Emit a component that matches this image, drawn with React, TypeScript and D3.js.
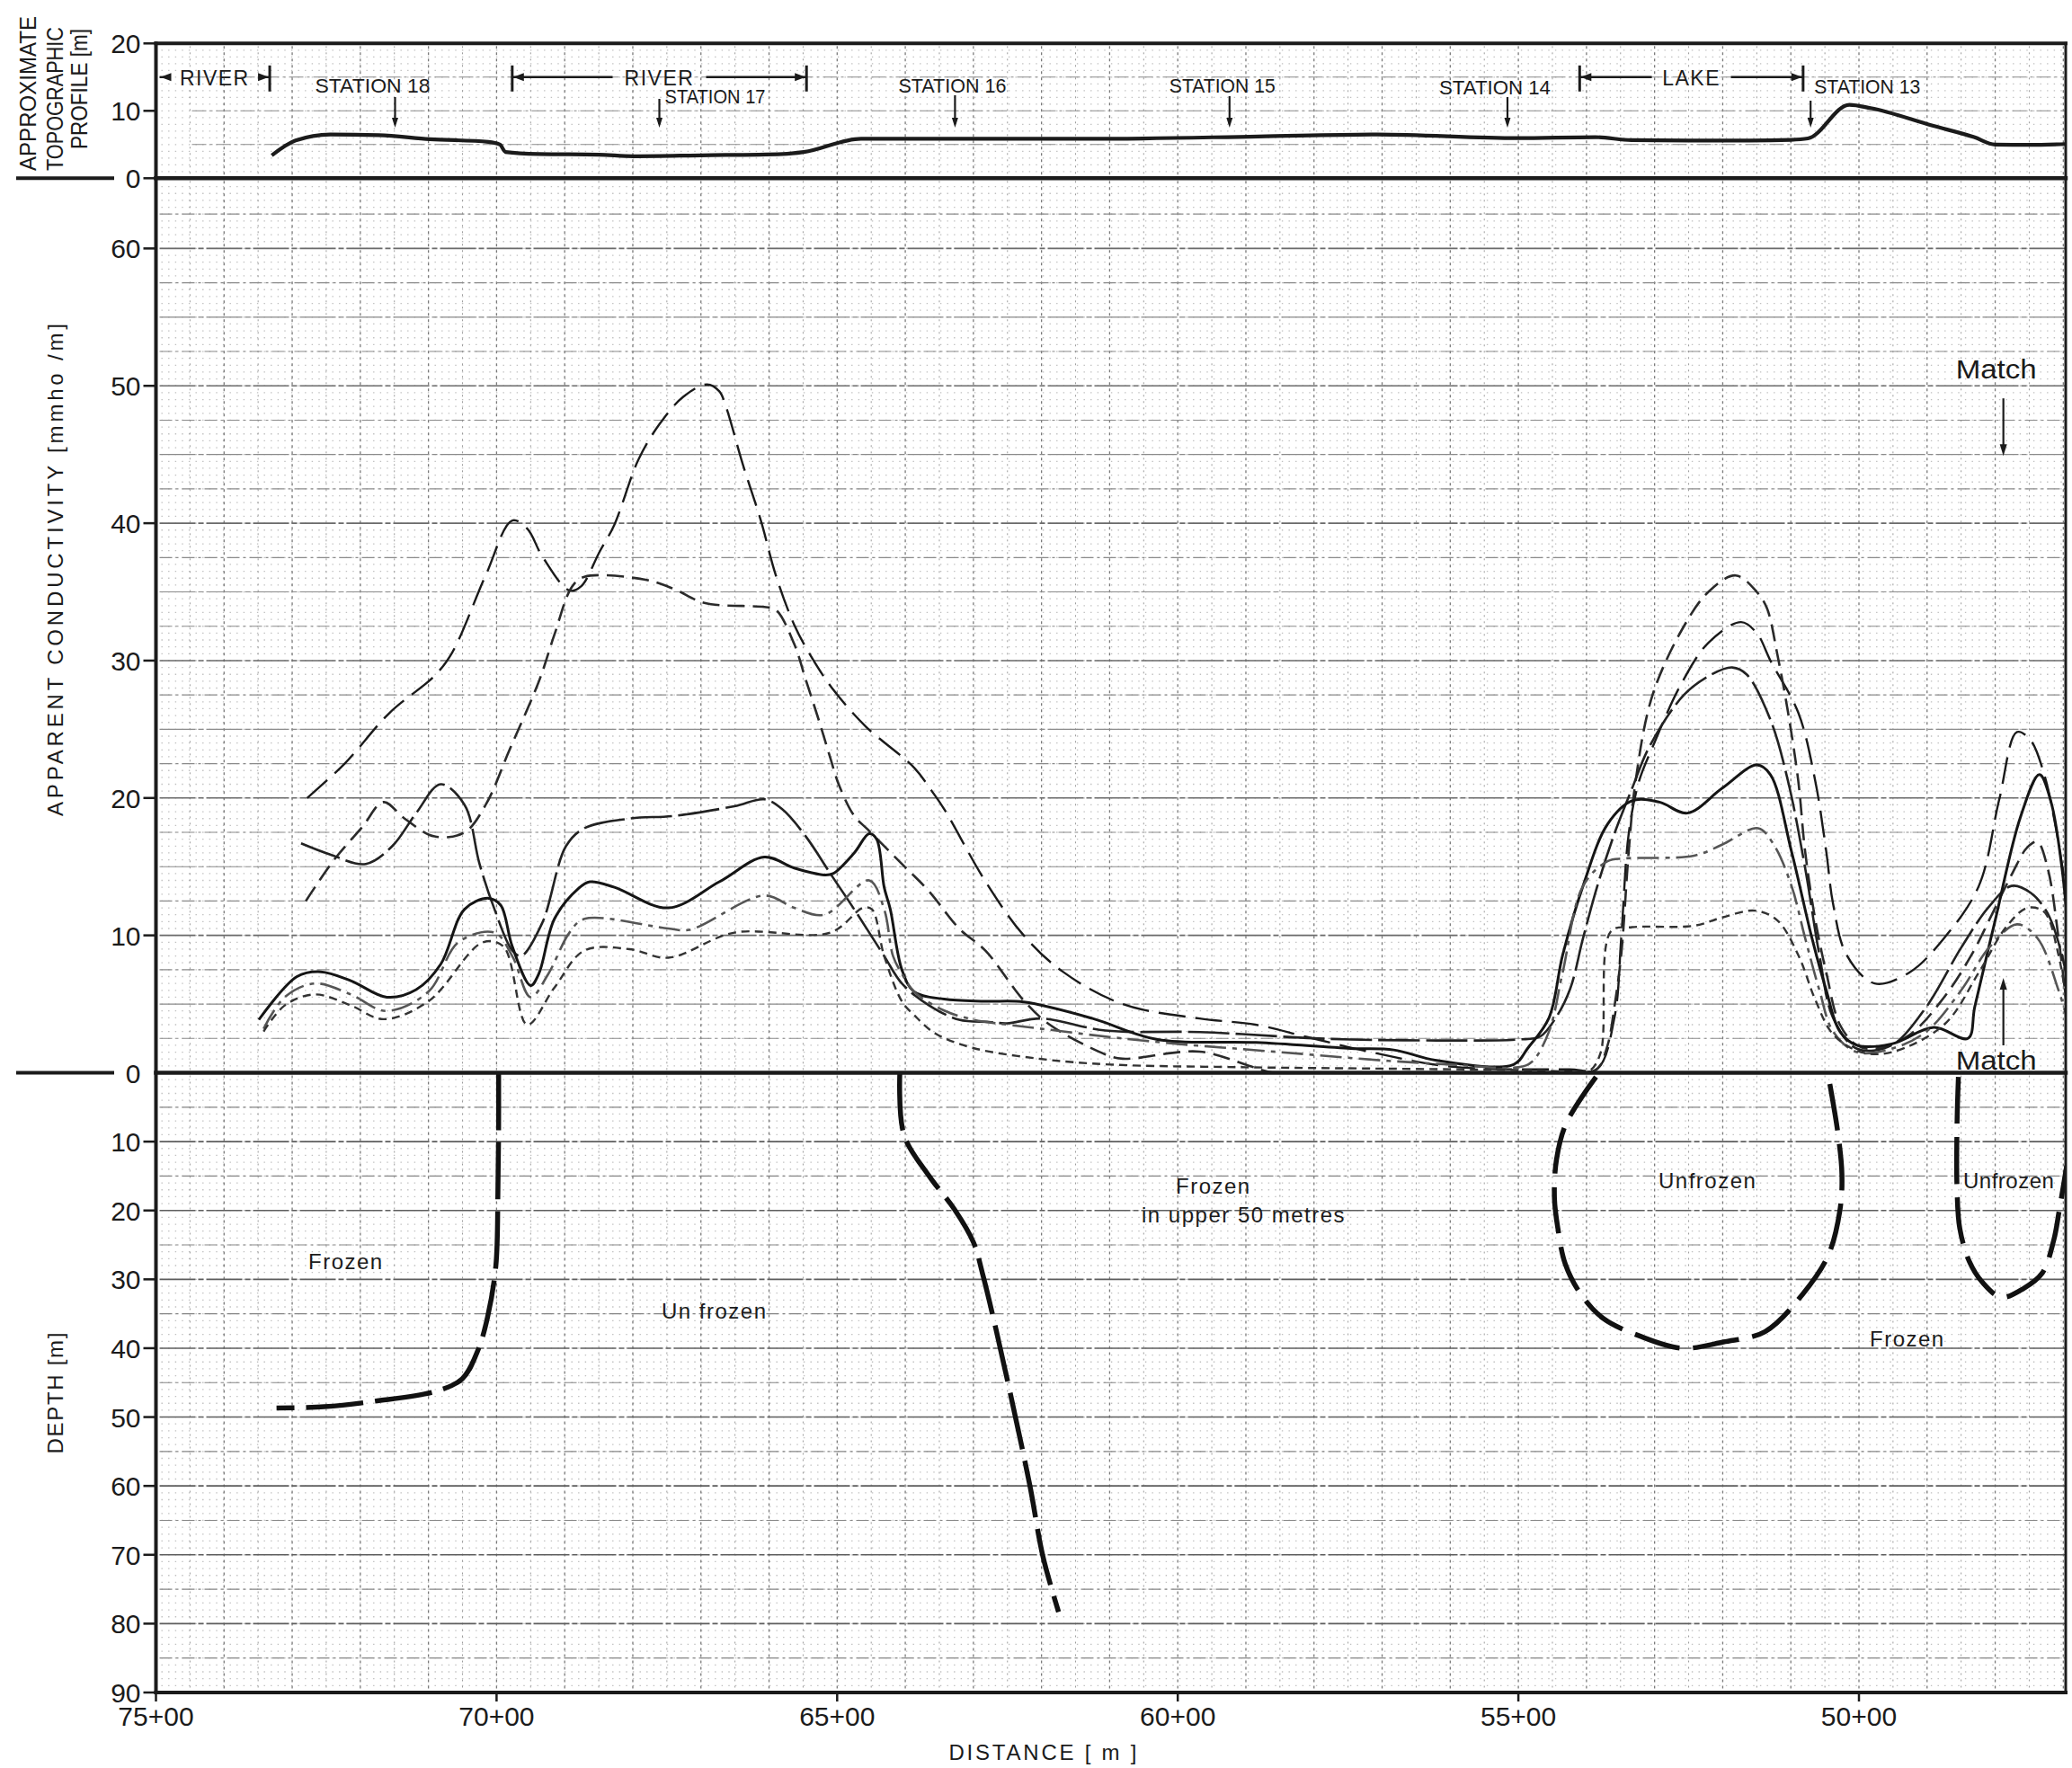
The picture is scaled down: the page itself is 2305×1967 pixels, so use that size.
import React from "react";
import * as d3 from "d3";

const W = 2305;
const H = 1967;

// Stations are in hundreds (75 = 75+00), values in the panel units.
const xTickValues = [75, 70, 65, 60, 55, 50];
const topoTickValues = [0, 10, 20];
const condTickValues = [0, 10, 20, 30, 40, 50, 60];
const depthTickValues = [10, 20, 30, 40, 50, 60, 70, 80, 90];

// Approximate topographic profile [station, elevation m]
const topoProfile: [number, number][] = [
  [73.3, 3.4], [72.95, 5.6], [72.44, 6.5], [71.73, 6.4], [70.98, 5.8], [70.12, 5.4],
  [69.95, 5.0], [69.87, 3.9], [69.38, 3.6], [68.5, 3.5], [67.99, 3.26], [67.0, 3.4],
  [65.8, 3.6], [65.49, 3.9], [64.65, 5.87], [63.22, 5.87], [60.94, 5.87], [58.82, 6.2],
  [57.07, 6.5], [55.01, 5.95], [53.87, 6.1], [53.34, 5.65], [52.5, 5.6], [51.6, 5.6],
  [51.0, 5.7], [50.75, 5.9], [50.14, 10.9], [49.83, 10.4], [48.92, 7.8], [48.31, 6.1],
  [48.0, 5.0], [47.5, 4.95], [46.9, 5.1],
];

// Apparent conductivity profiles [station, mmho/m]
const condLongDash: [number, number][] = [
  [72.78, 20.0], [72.23, 22.5], [71.57, 26.2], [70.91, 28.9], [70.65, 30.6], [70.16, 36.2],
  [69.77, 40.2], [69.55, 39.6], [69.33, 37.6], [68.93, 35.1], [68.76, 35.4], [68.49, 37.9],
  [68.27, 39.9], [67.92, 44.6], [67.61, 47.2], [67.26, 49.2], [66.91, 50.1], [66.73, 49.6],
  [66.64, 48.6], [66.38, 44.2], [66.12, 40.2], [65.9, 36.2], [65.63, 32.6], [65.37, 30.2],
  [65.06, 27.9], [64.58, 25.2], [63.87, 22.2], [63.61, 20.5], [63.43, 19.2], [62.82, 13.9],
  [62.27, 10.05], [61.7, 7.4], [60.81, 5.0], [59.68, 3.95], [58.86, 3.5], [58.1, 2.6],
  [57.16, 1.5], [56.0, 0.45], [54.25, 0.25], [53.84, 0.3], [53.59, 4.0], [53.49, 9.8],
  [53.38, 17.4], [53.23, 21.2], [53.03, 23.7], [52.62, 28.2], [52.21, 31.3], [51.73, 32.8],
  [51.5, 32.0], [51.3, 30.0], [50.89, 26.2], [50.64, 21.2], [50.48, 16.1], [50.38, 12.3],
  [50.18, 8.56], [49.77, 6.5], [49.26, 7.3], [48.75, 9.8], [48.24, 13.6], [47.94, 19.9],
  [47.68, 24.8], [47.48, 24.2], [47.28, 21.7], [47.12, 18.1], [46.97, 13.6],
];

const condMediumDash: [number, number][] = [
  [72.8, 12.5], [72.4, 15.4], [71.97, 17.9], [71.66, 19.7], [71.35, 18.5], [70.91, 17.2],
  [70.47, 17.5], [70.16, 19.5], [69.81, 23.5], [69.37, 28.6], [69.15, 31.9], [68.89, 35.4],
  [68.71, 36.1], [67.83, 35.9], [67.39, 35.2], [66.95, 34.2], [66.07, 33.9], [65.9, 33.7],
  [65.63, 31.2], [65.46, 28.6], [65.24, 25.2], [65.1, 22.9], [64.97, 20.9], [64.75, 18.7],
  [64.55, 17.7], [64.05, 15.2], [63.65, 13.2], [63.21, 10.5], [62.82, 8.87], [62.26, 5.25],
  [61.88, 3.5], [61.06, 1.33], [60.81, 1.02], [59.68, 1.54], [58.92, 0.45], [58.6, 0.0],
  [56.5, 0.0], [54.1, 0.0], [53.84, 0.3], [53.69, 2.0], [53.59, 4.8], [53.49, 8.6],
  [53.38, 16.1], [53.28, 21.2], [53.03, 27.5], [52.57, 32.5], [52.21, 35.0], [51.81, 36.2],
  [51.5, 35.0], [51.35, 33.8], [51.2, 30.5], [51.04, 26.2], [50.89, 21.2], [50.79, 16.1],
  [50.64, 11.1], [50.48, 7.3], [50.28, 3.5], [50.03, 2.0], [49.77, 1.75], [49.26, 2.75],
  [48.75, 5.5], [48.35, 8.56], [48.04, 11.6], [47.74, 14.6], [47.53, 16.4], [47.38, 16.8],
  [47.23, 14.9], [47.07, 9.8], [46.92, 3.5],
];

const condSolidLong: [number, number][] = [
  [72.87, 16.7], [72.45, 15.9], [71.92, 15.2], [71.53, 16.5], [71.18, 18.9], [70.82, 21.0],
  [70.47, 19.5], [70.25, 15.2], [70.03, 11.9], [69.77, 8.9], [69.64, 8.5], [69.33, 10.9],
  [68.98, 16.5], [68.71, 17.8], [68.05, 18.5], [67.39, 18.7], [66.51, 19.4], [66.07, 19.9],
  [65.81, 19.2], [65.46, 17.2], [65.1, 14.5], [64.75, 11.9], [64.31, 8.5], [64.05, 6.5],
  [63.65, 4.9], [63.21, 3.86], [62.77, 3.7], [62.51, 3.6], [62.0, 3.95], [61.06, 3.07],
  [59.67, 2.96], [58.09, 2.53], [57.46, 2.42], [56.2, 2.35], [55.0, 2.42], [54.68, 2.64],
  [54.45, 4.0], [54.24, 6.1], [54.05, 9.8], [53.84, 13.6], [53.59, 17.4], [53.33, 20.7],
  [53.08, 23.7], [52.57, 27.5], [52.16, 29.0], [51.86, 29.5], [51.65, 29.0], [51.3, 25.7],
  [51.04, 21.2], [50.79, 14.9], [50.58, 8.56], [50.38, 4.0], [50.03, 1.75], [49.52, 2.0],
  [49.01, 4.8], [48.5, 9.1], [48.09, 12.1], [47.76, 13.6], [47.48, 13.1], [47.23, 11.6],
  [47.02, 8.56], [46.92, 6.0],
];

const condSolid: [number, number][] = [
  [73.49, 3.86], [72.93, 7.0], [72.58, 7.35], [72.14, 6.7], [71.61, 5.5], [71.18, 6.05],
  [70.82, 7.9], [70.47, 11.9], [70.12, 12.7], [69.94, 12.2], [69.77, 9.2], [69.5, 6.35],
  [69.38, 7.2], [69.15, 11.2], [68.8, 13.4], [68.63, 13.9], [68.27, 13.5], [67.48, 12.0],
  [66.73, 13.9], [66.07, 15.7], [65.63, 14.9], [65.19, 14.4], [65.06, 14.5], [64.75, 16.0],
  [64.53, 17.4], [64.42, 17.0], [64.31, 13.5], [64.22, 11.9], [64.05, 7.5], [63.87, 5.9],
  [63.43, 5.36], [62.82, 5.2], [62.26, 5.15], [61.25, 3.95], [60.3, 2.42], [58.85, 2.2],
  [57.46, 1.77], [56.83, 1.66], [56.2, 0.9], [55.07, 0.6], [54.86, 1.8], [54.55, 4.0],
  [54.35, 8.56], [54.05, 13.6], [53.69, 18.1], [53.33, 19.8], [52.93, 19.7], [52.52, 18.9],
  [52.01, 20.7], [51.5, 22.4], [51.3, 21.7], [50.99, 16.1], [50.69, 9.8], [50.48, 6.0],
  [50.28, 3.0], [50.03, 2.0], [49.52, 2.1], [48.9, 3.3], [48.4, 2.5], [48.3, 4.8],
  [48.0, 11.1], [47.63, 18.6], [47.35, 21.7], [47.18, 19.7], [47.02, 14.9], [46.92, 9.8],
];

const condDashDot: [number, number][] = [
  [73.42, 3.2], [73.11, 5.5], [72.67, 6.5], [72.14, 5.7], [71.62, 4.5], [71.0, 5.9],
  [70.56, 9.5], [70.03, 10.2], [69.77, 8.5], [69.5, 5.5], [69.24, 7.2], [68.93, 10.2],
  [68.71, 11.2], [67.48, 10.5], [67.17, 10.4], [66.07, 12.9], [65.63, 12.0], [65.19, 11.5],
  [64.53, 14.0], [64.31, 11.9], [64.18, 8.5], [64.05, 7.2], [63.87, 5.9], [63.43, 4.53],
  [63.0, 3.86], [62.5, 3.5], [62.0, 3.2], [61.0, 2.6], [60.0, 2.1], [59.0, 1.7],
  [58.0, 1.3], [57.0, 0.9], [56.0, 0.6], [55.0, 0.4], [54.8, 0.8], [54.55, 3.0],
  [54.35, 7.3], [54.05, 13.6], [53.69, 15.4], [53.44, 15.6], [52.42, 15.8], [52.01, 16.6],
  [51.48, 17.8], [51.25, 16.6], [50.99, 13.6], [50.79, 9.8], [50.58, 6.0], [50.38, 3.0],
  [50.03, 1.5], [49.52, 1.75], [49.01, 3.0], [48.5, 6.0], [48.09, 9.1], [47.68, 10.8],
  [47.38, 9.8], [47.07, 6.0], [46.92, 3.5],
];

const condShortDash: [number, number][] = [
  [73.42, 3.0], [73.11, 4.9], [72.67, 5.7], [72.14, 4.9], [71.66, 3.9], [71.0, 5.2],
  [70.2, 9.5], [69.9, 9.2], [69.55, 3.5], [69.15, 6.2], [68.71, 8.9], [68.05, 9.0],
  [67.48, 8.37], [66.51, 10.2], [65.1, 10.2], [64.62, 12.0], [64.49, 11.9], [64.31, 8.5],
  [64.05, 5.2], [63.87, 4.2], [63.56, 2.86], [63.0, 1.8], [62.0, 1.0], [61.0, 0.6],
  [59.0, 0.4], [57.0, 0.3], [55.0, 0.2], [54.1, 0.1], [53.94, 0.2], [53.79, 1.5],
  [53.64, 10.3], [53.33, 10.6], [52.42, 10.7], [52.01, 11.3], [51.53, 11.8], [51.2, 11.1],
  [50.89, 8.56], [50.64, 5.3], [50.38, 2.8], [49.97, 1.5], [49.52, 1.5], [48.75, 3.5],
  [48.24, 7.3], [47.84, 10.6], [47.53, 12.0], [47.28, 11.7], [47.07, 8.56], [46.92, 4.0],
];

// Interpreted frozen / unfrozen boundaries [station, depth m]
const boundaryRiverWest: [number, number][] = [
  [69.97, 0], [69.97, 8], [69.98, 17], [70.01, 28], [70.13, 35.4], [70.27, 40.2],
  [70.5, 44.4], [70.87, 46.2], [71.79, 47.7], [72.53, 48.5], [73.23, 48.7],
];
const boundaryRiverEast: [number, number][] = [
  [64.08, 0], [64.02, 9.0], [63.65, 15.0], [63.28, 19.8], [63.0, 24.6], [62.86, 29.4],
  [62.67, 37.2], [62.44, 47.4], [62.17, 60], [61.98, 70.2], [61.75, 78.3],
];
const boundaryLake: [number, number][] = [
  [53.86, 0.6], [54.3, 7.4], [54.44, 12.6], [54.47, 18.3], [54.42, 22.6], [54.31, 27.8],
  [54.08, 32.2], [53.75, 35.7], [53.2, 38.3], [52.6, 40.0], [51.99, 39.1], [51.38, 37.6],
  [50.83, 32.2], [50.45, 26.5], [50.28, 20.0], [50.25, 14.8], [50.31, 8.7], [50.45, 0.4],
];
const boundaryEast: [number, number][] = [
  [48.54, 0.6], [48.56, 7.4], [48.56, 16.9], [48.52, 22.6], [48.38, 27.4], [48.19, 30.4],
  [47.91, 32.6], [47.58, 31.3], [47.31, 29.1], [47.14, 24.3], [47.06, 20.0], [46.95, 13.5],
];

// Station markers along the profile
const stationNames = ["STATION 18", "STATION 17", "STATION 16", "STATION 15", "STATION 14", "STATION 13"];
const stationAt = [71.49, 67.61, 63.27, 59.24, 55.16, 50.71];

// Surface features: [label, start station, end station]
const featureNames = ["RIVER", "RIVER", "LAKE"];
const featureFrom = [75, 69.77, 54.1];
const featureTo = [73.33, 65.45, 50.82];

// Matching points between the two sets of readings [station, mmho/m]
const matchAt: [number, number][] = [[47.88, 44.9], [47.88, 6.9]];

const FONT = "'Liberation Sans', Arial, Helvetica, sans-serif";
const INK = "#1b1b1b";

const x = d3.scaleLinear().domain([75, 50]).range([173.5, 2068]);
const plotLeft = x(75);
const plotRight = 2298;
const topoY = d3.scaleLinear().domain([0, 20]).range([198.3, 48.3]);
const condY = d3.scaleLinear().domain([0, 60]).range([1193.5, 276.4]);
const depthY = d3.scaleLinear().domain([0, 90]).range([1193.5, 1883]);
const stationMin = x.invert(plotRight);

function arrowHead(tx: number, ty: number, dx: number, dy: number, len = 12, half = 4.5) {
  const bx = tx - dx * len;
  const by = ty - dy * len;
  const px = -dy * half;
  const py = dx * half;
  return `M${tx},${ty}L${bx + px},${by + py}L${bx - px},${by - py}Z`;
}

function Grid() {
  const els: React.ReactNode[] = [];
  let k = 0;
  const verticals = d3.range(74.5, stationMin, -0.5);
  const bands: { y0: number; y1: number }[] = [
    { y0: topoY(20), y1: topoY(0) },
    { y0: topoY(0), y1: condY(0) },
    { y0: depthY(0), y1: depthY(90) },
  ];
  // fine dotted rows (graph-paper stipple)
  const dotRows: number[] = [
    ...d3.range(1, 20, 1).map((v) => topoY(v)),
    ...d3.range(0.5, 65, 0.5).map((v) => condY(v)),
    ...d3.range(1, 90, 1).map((v) => depthY(v)),
  ];
  dotRows.forEach((yy) => {
    els.push(
      <line key={k++} x1={plotLeft + 6} x2={plotRight - 4} y1={yy} y2={yy}
        stroke="#8d8d8d" strokeWidth={1.3} strokeDasharray="1.4 6.2" opacity={0.55} />
    );
  });
  // vertical rulings
  bands.forEach((b) => {
    verticals.forEach((s) => {
      const major = Math.abs(s - Math.round(s)) < 1e-6;
      els.push(
        <line key={k++} x1={x(s)} x2={x(s)} y1={b.y0 + 3} y2={b.y1 - 3}
          stroke={major ? "#7a7a7a" : "#9c9c9c"} strokeWidth={major ? 1.3 : 1}
          strokeDasharray={major ? "3 4" : "2 5"} />
      );
    });
  });
  // horizontal rulings
  [5, 10, 15].forEach((v) => {
    els.push(<line key={k++} x1={plotLeft + 40} x2={plotRight} y1={topoY(v)} y2={topoY(v)}
      stroke="#8a8a8a" strokeWidth={1.1} strokeDasharray="16 4 3 4" />);
  });
  d3.range(2.5, 65, 2.5).forEach((v) => {
    const ten = v % 10 === 0;
    const five = v % 5 === 0;
    els.push(<line key={k++} x1={plotLeft + 4} x2={plotRight} y1={condY(v)} y2={condY(v)}
      stroke={ten ? "#6a6a6a" : "#8a8a8a"} strokeWidth={ten ? 1.6 : 1.15}
      strokeDasharray={five ? "40 3 6 3" : "14 4 3 4"} />);
  });
  d3.range(5, 90, 5).forEach((v) => {
    const ten = v % 10 === 0;
    els.push(<line key={k++} x1={plotLeft + 4} x2={plotRight} y1={depthY(v)} y2={depthY(v)}
      stroke={ten ? "#5e5e5e" : "#858585"} strokeWidth={ten ? 1.6 : 1.15}
      strokeDasharray={ten ? "40 3 6 3" : "14 4 3 4"} />);
  });
  return <g>{els}</g>;
}

export default function App() {
  const condLine = d3
    .line<[number, number]>()
    .x((d) => x(d[0]))
    .y((d) => condY(d[1]))
    .curve(d3.curveCatmullRom.alpha(0.5));
  const depthLine = d3
    .line<[number, number]>()
    .x((d) => x(d[0]))
    .y((d) => depthY(d[1]))
    .curve(d3.curveCatmullRom.alpha(0.5));
  const topoLine = d3
    .line<[number, number]>()
    .x((d) => x(d[0]))
    .y((d) => topoY(d[1]))
    .curve(d3.curveMonotoneX);

  const series = [
    { data: condLongDash, dash: "30 11", width: 2.4, color: "#1a1a1a" },
    { data: condMediumDash, dash: "19 9", width: 2.6, color: "#2a2a2a" },
    { data: condSolidLong, dash: "46 7", width: 2.6, color: "#222" },
    { data: condSolid, dash: undefined, width: 3, color: "#151515" },
    { data: condDashDot, dash: "24 7 5 7", width: 2.6, color: "#555" },
    { data: condShortDash, dash: "9 6", width: 2.4, color: "#333" },
  ];

  const boundaries = [boundaryRiverWest, boundaryRiverEast, boundaryLake, boundaryEast];
  const labelLayout = [
    { dx: -25, y: 103, anchor: "middle", top: 108, len: 128 },
    { dx: 6, y: 115, anchor: "start", top: 110, len: 112 },
    { dx: -3, y: 103, anchor: "middle", top: 106, len: 120 },
    { dx: -8, y: 103, anchor: "middle", top: 107, len: 118 },
    { dx: -14, y: 105, anchor: "middle", top: 108, len: 124 },
    { dx: 4, y: 104, anchor: "start", top: 112, len: 118 },
  ];

  return (
    <svg width={W} height={H} viewBox={`0 0 ${W} ${H}`}
      style={{ position: "absolute", left: 0, top: 0, background: "#fff" }} fontFamily={FONT}>
      <defs>
        <clipPath id="condClip">
          <rect x={plotLeft} y={topoY(0)} width={plotRight - plotLeft} height={condY(0) - topoY(0) + 1} />
        </clipPath>
        <clipPath id="depthClip">
          <rect x={plotLeft} y={depthY(0)} width={plotRight - plotLeft} height={depthY(90) - depthY(0)} />
        </clipPath>
        <clipPath id="topoClip">
          <rect x={plotLeft} y={topoY(20)} width={plotRight - plotLeft} height={topoY(0) - topoY(20)} />
        </clipPath>
      </defs>
      <rect x={0} y={0} width={W} height={H} fill="#fff" />

      <Grid />

      {/* topographic profile */}
      <path d={topoLine(topoProfile.slice().reverse()) ?? ""} fill="none" stroke={INK} strokeWidth={4.2}
        strokeLinejoin="round" clipPath="url(#topoClip)" />

      {/* river / lake extents */}
      {featureNames.map((name, i) => {
        const yy = topoY(15);
        const a = featureFrom[i] >= 75 ? plotLeft + 4 : x(featureFrom[i]);
        const b = x(featureTo[i]);
        const mid = (a + b) / 2;
        const halfText = name.length * 8 + 12;
        return (
          <g key={`f${i}`} stroke={INK} fill={INK}>
            {featureFrom[i] < 75 && <line x1={a} x2={a} y1={yy - 13} y2={yy + 16} strokeWidth={3} />}
            <line x1={b} x2={b} y1={yy - 13} y2={yy + 16} strokeWidth={3} />
            <line x1={a} x2={mid - halfText} y1={yy} y2={yy} strokeWidth={2.4} />
            <line x1={mid + halfText} x2={b} y1={yy} y2={yy} strokeWidth={2.4} />
            <path d={arrowHead(a + 1, yy, -1, 0)} stroke="none" />
            <path d={arrowHead(b - 1, yy, 1, 0)} stroke="none" />
            <text x={mid} y={yy + 9} textAnchor="middle" fontSize={23} stroke="none"
              letterSpacing={1.5}>{name}</text>
          </g>
        );
      })}

      {/* station markers */}
      {stationNames.map((name, i) => {
        const sx = x(stationAt[i]);
        const L = labelLayout[i];
        return (
          <g key={`s${i}`} fill={INK}>
            <text x={sx + L.dx} y={L.y} textAnchor={L.anchor as any} fontSize={22}
              textLength={L.len} lengthAdjust="spacingAndGlyphs">{name}</text>
            <line x1={sx} x2={sx} y1={L.top} y2={138} stroke={INK} strokeWidth={2.2} />
            <path d={arrowHead(sx, 142, 0, 1, 11, 3.5)} />
          </g>
        );
      })}

      {/* conductivity profiles */}
      <g clipPath="url(#condClip)">
        {series.map((s, i) => (
          <path key={`c${i}`} d={condLine(s.data) ?? ""} fill="none" stroke={s.color}
            strokeWidth={s.width} strokeDasharray={s.dash} strokeLinecap="butt" strokeLinejoin="round" />
        ))}
      </g>

      {/* frozen / unfrozen boundaries */}
      <g clipPath="url(#depthClip)">
        {boundaries.map((b, i) => (
          <path key={`b${i}`} d={depthLine(b) ?? ""} fill="none" stroke="#111" strokeWidth={5.5}
            strokeDasharray={i < 2 ? "64 13" : "52 15"} strokeLinecap="butt" />
        ))}
      </g>

      {/* match markers */}
      {matchAt.map((m, i) => {
        const mx = x(m[0]);
        const my = condY(m[1]);
        const down = i === 0;
        const tail = down ? my - 64 : my + 75;
        return (
          <g key={`m${i}`} fill={INK}>
            <line x1={mx} x2={mx} y1={tail} y2={down ? my - 10 : my + 10} stroke={INK} strokeWidth={2.2} />
            <path d={arrowHead(mx, my, 0, down ? 1 : -1, 13, 4)} />
            <text x={mx - 8} y={down ? tail - 22 : tail + 27} textAnchor="middle" fontSize={30}
              textLength={90} lengthAdjust="spacingAndGlyphs">Match</text>
          </g>
        );
      })}

      {/* region labels */}
      <g fill={INK} fontSize={24} letterSpacing={1.5}>
        <text x={343} y={1412}>Frozen</text>
        <text x={736} y={1467}>Un frozen</text>
        <text x={1308} y={1328}>Frozen</text>
        <text x={1270} y={1360}>in  upper  50  metres</text>
        <text x={1845} y={1322}>Unfrozen</text>
        <text x={2184} y={1322} letterSpacing={0.5}>Unfrozen</text>
        <text x={2080} y={1498}>Frozen</text>
      </g>

      {/* frame */}
      <g stroke={INK} fill="none" strokeLinecap="square">
        <line x1={plotLeft} x2={plotRight} y1={topoY(20)} y2={topoY(20)} strokeWidth={4} />
        <line x1={plotLeft} x2={plotRight} y1={topoY(0)} y2={topoY(0)} strokeWidth={4.5} />
        <line x1={plotLeft} x2={plotRight} y1={condY(0)} y2={condY(0)} strokeWidth={4.5} />
        <line x1={plotLeft} x2={plotRight} y1={depthY(90)} y2={depthY(90)} strokeWidth={4} />
        <line x1={plotLeft} x2={plotLeft} y1={topoY(20)} y2={depthY(90)} strokeWidth={4} />
        <line x1={plotRight} x2={plotRight} y1={topoY(20)} y2={depthY(90)} strokeWidth={3} />
        <line x1={20} x2={125} y1={topoY(0)} y2={topoY(0)} strokeWidth={4} />
        <line x1={20} x2={125} y1={condY(0)} y2={condY(0)} strokeWidth={4} />
      </g>

      {/* y axes */}
      <g fill={INK} fontSize={30}>
        {topoTickValues.map((v) => (
          <g key={`ty${v}`}>
            <line x1={plotLeft - 14} x2={plotLeft} y1={topoY(v)} y2={topoY(v)} stroke={INK} strokeWidth={2.5} />
            <text x={plotLeft - 17} y={topoY(v) + 11} textAnchor="end">{v}</text>
          </g>
        ))}
        {condTickValues.filter((v) => v > 0).map((v) => (
          <g key={`cy${v}`}>
            <line x1={plotLeft - 14} x2={plotLeft} y1={condY(v)} y2={condY(v)} stroke={INK} strokeWidth={2.5} />
            <text x={plotLeft - 17} y={condY(v) + 11} textAnchor="end">{v}</text>
          </g>
        ))}
        <text x={plotLeft - 17} y={condY(0) + 11} textAnchor="end">0</text>
        {depthTickValues.map((v) => (
          <g key={`dy${v}`}>
            <line x1={plotLeft - 14} x2={plotLeft} y1={depthY(v)} y2={depthY(v)} stroke={INK} strokeWidth={2.5} />
            <text x={plotLeft - 17} y={depthY(v) + 11} textAnchor="end">{v}</text>
          </g>
        ))}
      </g>

      {/* x axis */}
      <g fill={INK} fontSize={30}>
        {xTickValues.map((v) => (
          <g key={`xt${v}`}>
            <line x1={x(v)} x2={x(v)} y1={depthY(90)} y2={depthY(90) + 10} stroke={INK} strokeWidth={2.5} />
            <text x={x(v)} y={1920} textAnchor="middle">{`${v}+00`}</text>
          </g>
        ))}
        <text x={1160} y={1958} textAnchor="middle" fontSize={24} textLength={209}
          lengthAdjust="spacing">DISTANCE [ m ]</text>
      </g>

      {/* axis titles */}
      <g fill={INK} fontSize={25}>
        <text transform="translate(40,190) rotate(-90)" textAnchor="start" textLength={172}
          lengthAdjust="spacingAndGlyphs">APPROXIMATE</text>
        <text transform="translate(70,190) rotate(-90)" textAnchor="start" textLength={160}
          lengthAdjust="spacingAndGlyphs">TOPOGRAPHIC</text>
        <text transform="translate(97,166) rotate(-90)" textAnchor="start" textLength={134}
          lengthAdjust="spacingAndGlyphs">PROFILE [m]</text>
        <text transform="translate(70,634) rotate(-90)" textAnchor="middle" fontSize={24}
          textLength={548} lengthAdjust="spacing">APPARENT  CONDUCTIVITY  [mmho /m]</text>
        <text transform="translate(70,1550) rotate(-90)" textAnchor="middle" fontSize={24}
          textLength={135} lengthAdjust="spacing">DEPTH  [m]</text>
      </g>
    </svg>
  );
}
